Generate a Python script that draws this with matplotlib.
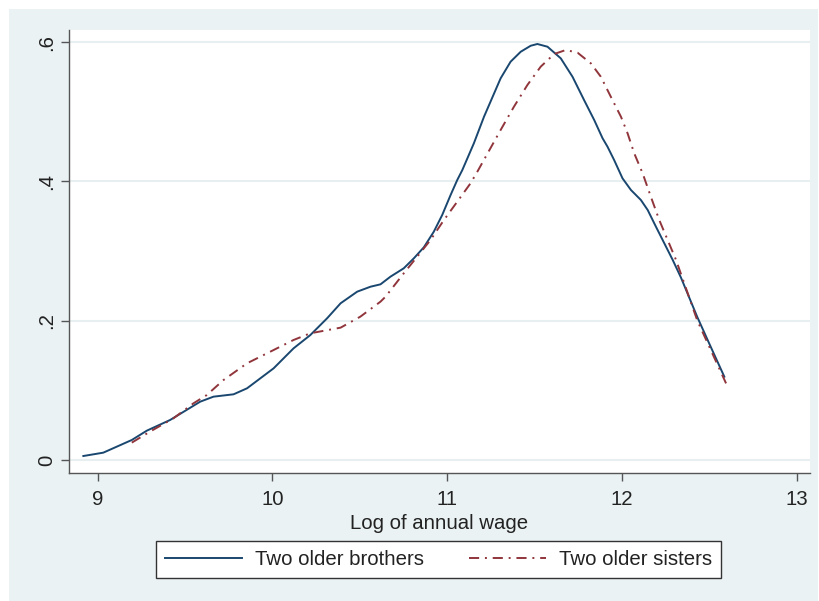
import matplotlib
matplotlib.use("Agg")
import matplotlib.pyplot as plt
from matplotlib.patches import Rectangle
import numpy as np

brothers_x = [8.919, 9.033, 9.196, 9.282, 9.415, 9.587, 9.663, 9.778, 9.855, 10.007,
              10.121, 10.217, 10.313, 10.390, 10.485, 10.561, 10.618, 10.675, 10.751,
              10.809, 10.866, 10.923, 10.971, 11.019, 11.057, 11.086, 11.152, 11.210,
              11.305, 11.362, 11.420, 11.477, 11.515, 11.573, 11.649, 11.716, 11.782,
              11.840, 11.888, 11.916, 11.954, 12.002, 12.050, 12.107, 12.146, 12.193,
              12.241, 12.289, 12.336, 12.430, 12.500, 12.584]
brothers_y = [0.0057, 0.0105, 0.0287, 0.0421, 0.0574, 0.0837, 0.0909, 0.0943, 0.1029, 0.1316,
              0.1603, 0.1794, 0.2035, 0.2250, 0.2417, 0.2488, 0.2522, 0.2632, 0.2752,
              0.2896, 0.3054, 0.3278, 0.3518, 0.3805, 0.4020, 0.4163, 0.4547, 0.4929,
              0.5480, 0.5719, 0.5862, 0.5948, 0.5973, 0.5934, 0.5767, 0.5503, 0.5169,
              0.4882, 0.4619, 0.4499, 0.4307, 0.4044, 0.3877, 0.3733, 0.3589, 0.3350,
              0.3111, 0.2872, 0.2620, 0.2050, 0.1660, 0.1196]

sisters_x = [9.196, 9.300, 9.434, 9.549, 9.625, 9.721, 9.855, 10.007, 10.121, 10.217,
             10.390, 10.503, 10.618, 10.647, 10.751, 10.828, 10.904, 10.981, 11.057,
             11.133, 11.172, 11.305, 11.381, 11.458, 11.534, 11.611, 11.678, 11.745,
             11.821, 11.878, 11.935, 11.993, 12.031, 12.069, 12.117, 12.164, 12.212,
             12.260, 12.308, 12.430, 12.594]
sisters_y = [0.0249, 0.0407, 0.0598, 0.0814, 0.0933, 0.1149, 0.1388, 0.1579, 0.1723, 0.1819,
             0.1900, 0.2058, 0.2273, 0.2345, 0.2680, 0.2919, 0.3159, 0.3446, 0.3709,
             0.3973, 0.4140, 0.4738, 0.5072, 0.5384, 0.5647, 0.5829, 0.5887, 0.5848,
             0.5695, 0.5503, 0.5216, 0.4929, 0.4690, 0.4403, 0.4116, 0.3780, 0.3446,
             0.3159, 0.2872, 0.2000, 0.1100]

x_ticks = [9, 10, 11, 12, 13]
y_ticks = [0, 0.2, 0.4, 0.6]
y_labels = ["0", ".2", ".4", ".6"]
x_label = "Log of annual wage"
series_names = ["Two older brothers", "Two older sisters"]

plt.rcParams['font.family'] = ['Liberation Sans', 'DejaVu Sans']
FS = 14.7

W, H = 819, 601
fig = plt.figure(figsize=(W / 100, H / 100), dpi=100)
fig.patch.set_facecolor("white")
bg = "#EAF2F3"
fig.patches.append(Rectangle((9 / W, 0), (818 - 9) / W, (H - 9) / H,
                             transform=fig.transFigure, facecolor=bg,
                             edgecolor="none", zorder=-10))

ax = fig.add_axes([69 / W, 1 - 473 / H, (810 - 69) / W, (473 - 30) / H])
ax.set_facecolor("white")

blue = "#1A476F"
red = "#90353B"
ax.plot(brothers_x, brothers_y, color=blue, lw=1.4, label=series_names[0], zorder=3,
        solid_joinstyle="round")
ax.plot(sisters_x, sisters_y, color=red, lw=1.4, dashes=(5.2, 3.0, 1.0, 3.0),
        label=series_names[1], zorder=3)

ax.set_xlim(8.837, 13.074)
ax.set_ylim(-0.0187, 0.6174)
ax.set_xticks(x_ticks)
ax.set_xticklabels([str(t) for t in x_ticks])
ax.set_yticks(y_ticks)
ax.set_yticklabels(y_labels, rotation=90, va="center")
ax.grid(axis="y", color="#E8EFF0", lw=1.5, zorder=0)
ax.grid(axis="x", visible=False)
ax.set_axisbelow(True)

for s in ["top", "right"]:
    ax.spines[s].set_visible(False)
for s in ["left", "bottom"]:
    ax.spines[s].set_color("#555555")
    ax.spines[s].set_linewidth(1.0)

ax.tick_params(axis="both", direction="out", length=6, width=1.0, color="#555555",
               labelsize=FS, labelcolor="#222222")
ax.tick_params(axis="x", pad=6.5)
ax.tick_params(axis="y", pad=3.5)

ax.set_xlabel(x_label, fontsize=FS, color="#222222", labelpad=3)

leg = fig.legend(loc="center", bbox_to_anchor=(438.5 / W, 1 - 559.5 / H), ncol=2,
                 fontsize=FS, frameon=True, fancybox=False, handlelength=3.8,
                 columnspacing=2.2, handletextpad=0.62, borderpad=0.45, framealpha=1)
leg.get_frame().set_facecolor("white")
leg.get_frame().set_edgecolor("#333333")
leg.get_frame().set_linewidth(1.0)
for t in leg.get_texts():
    t.set_color("#222222")

fig.savefig("out.png", dpi=100, facecolor=fig.get_facecolor())
